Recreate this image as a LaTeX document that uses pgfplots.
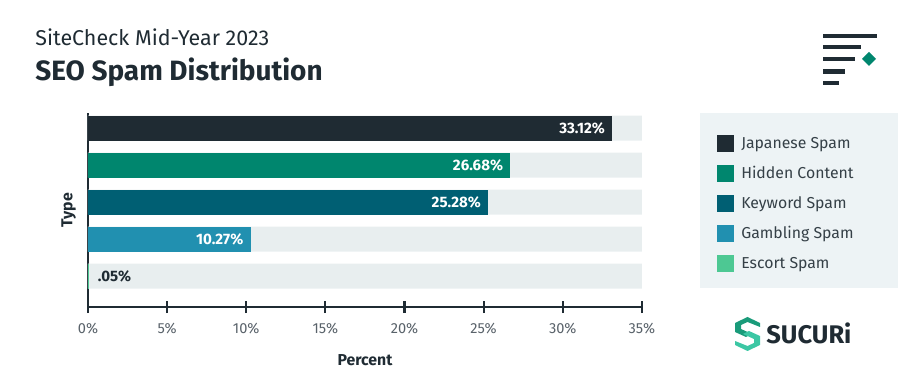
\documentclass[border=0pt]{standalone}
\usepackage{pgfplots}
\pgfplotsset{compat=1.18}
\usepackage{fontspec}
\setmainfont{Fira Sans}
\definecolor{cdark}{HTML}{1F2B33}
\definecolor{chidden}{HTML}{00866E}
\definecolor{ckeyword}{HTML}{005F73}
\definecolor{cgambling}{HTML}{2190B0}
\definecolor{cescort}{HTML}{4DC893}
\definecolor{cbg}{HTML}{E8EEEF}
\definecolor{clegbg}{HTML}{EDF3F5}
\definecolor{ctick}{HTML}{59626A}
\definecolor{clogoA}{HTML}{1A9B7A}
\definecolor{clogoB}{HTML}{3CC7A4}
\begin{document}
\begin{tikzpicture}[x=0.02cm,y=0.02cm]
\path[use as bounding box] (0,0) rectangle (900,384);
% legend panel
\fill[clegbg] (700,271) rectangle (898,96);
% titles
\node[anchor=base west, inner sep=0, text=cdark, font=\fontsize{12.2}{14}\selectfont] at (35,338) {SiteCheck Mid-Year 2023};
\node[anchor=base west, inner sep=0, text=cdark, font=\fontsize{15.9}{18}\selectfont\bfseries] at (35,303) {SEO Spam Distribution};
% icon top right
\begin{scope}[line width=2.3pt, cdark]
\draw (823,348.3) -- (877,348.3);
\draw (823,337) -- (861,337);
\draw (823,325) -- (855,325);
\draw (823,312.5) -- (845,312.5);
\draw (823,301) -- (839,301);
\end{scope}
\fill[chidden] (869,332) -- (876,325) -- (869,318) -- (862,325) -- cycle;
% sucuri logo
\fill[clogoA] (735,52) -- (735,61) -- (747.5,67) -- (760,61) -- (760,57) -- (747.5,62) -- (741,59) -- (741,55) -- (752,50) -- (746,47) -- cycle;
\fill[clogoB] (760,48) -- (760,39) -- (747.5,33) -- (735,39) -- (735,43) -- (747.5,38) -- (754,41) -- (754,45) -- (743,50) -- (749,53) -- cycle;
\node[anchor=west, inner sep=0, text=cdark, font=\fontsize{14.5}{16}\selectfont\bfseries] at (766,51) {SUCURi};
\begin{axis}[
  at={(1.76cm,1.54cm)}, anchor=south west,
  scale only axis, width=11.08cm, height=3.88cm,
  xbar, bar shift=0pt, bar width=0.676,
  y dir=reverse,
  xmin=0, xmax=35, ymin=-0.405, ymax=4.838,
  axis x line=bottom, axis y line=left,
  axis line style={-, line width=1.2pt, cdark},
  xtick={0,5,...,35}, ytick=\empty,
  xticklabel={\pgfmathprintnumber{\tick}\%},
  /pgf/number format/assume math mode=true,
  tick style={cdark, line width=1.2pt},
  major tick length=0.24cm, tick align=center,
  xticklabel style={text=ctick, font=\fontsize{8.3}{9}\selectfont, yshift=-0.08cm},
  xlabel={Percent}, ylabel={Type},
  xlabel style={text=cdark, font=\fontsize{9}{10}\selectfont\bfseries, yshift=-0.17cm},
  ylabel style={text=cdark, font=\fontsize{9}{10}\selectfont\bfseries},
  legend style={at={(1.126,0.905)}, anchor=north west, draw=none, fill=none,
    font=\fontsize{9}{10}\selectfont, text=cdark!90, row sep=0.26cm, column sep=0.14cm,
    nodes={inner sep=0pt}},
  legend cell align=left,
  legend image code/.code={\fill[#1] (0cm,-0.17cm) rectangle (0.34cm,0.17cm);},
  clip=false,
]
\addplot[fill=cbg, draw=none, forget plot] coordinates {(35,0) (35,1) (35,2) (35,3) (35,4)};
\addplot[fill=cdark, draw=none] coordinates {(33.12,0)};
\addplot[fill=chidden, draw=none] coordinates {(26.68,1)};
\addplot[fill=ckeyword, draw=none] coordinates {(25.28,2)};
\addplot[fill=cgambling, draw=none] coordinates {(10.27,3)};
\addplot[fill=cescort, draw=none] coordinates {(0.05,4)};
\legend{Japanese Spam, Hidden Content, Keyword Spam, Gambling Spam, Escort Spam}
\node[anchor=east, text=white, font=\fontsize{8.6}{10}\selectfont\bfseries, xshift=-0.02cm] at (axis cs:33.12,0) {33.12\%};
\node[anchor=east, text=white, font=\fontsize{8.6}{10}\selectfont\bfseries, xshift=-0.02cm] at (axis cs:26.68,1) {26.68\%};
\node[anchor=east, text=white, font=\fontsize{8.6}{10}\selectfont\bfseries, xshift=-0.02cm] at (axis cs:25.28,2) {25.28\%};
\node[anchor=east, text=white, font=\fontsize{8.6}{10}\selectfont\bfseries, xshift=-0.02cm] at (axis cs:10.27,3) {10.27\%};
\node[anchor=west, text=cdark, font=\fontsize{8.6}{10}\selectfont\bfseries, xshift=0.06cm] at (axis cs:0.05,4) {.05\%};
\end{axis}
\end{tikzpicture}
\end{document}
